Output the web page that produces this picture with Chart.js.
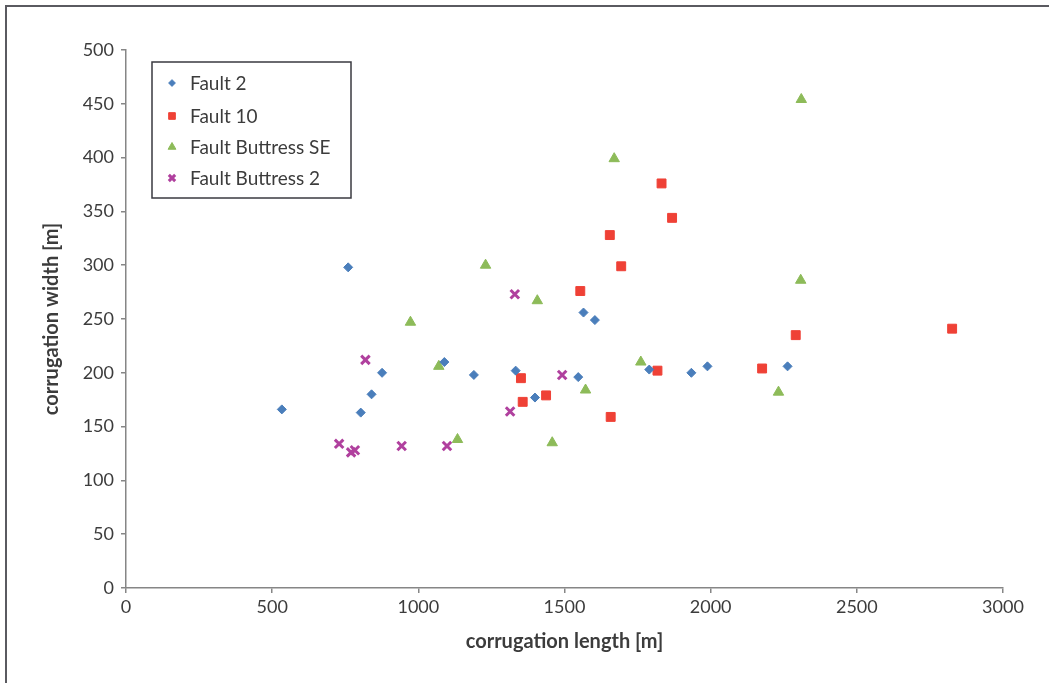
<!DOCTYPE html>
<html>
<head>
<meta charset="utf-8">
<title>Corrugation width vs length</title>
<script src="https://cdn.jsdelivr.net/npm/chart.js@4/dist/chart.umd.min.js"></script>
<style>
  html, body { margin: 0; padding: 0; background: #ffffff; }
  #wrap { width: 1049px; height: 683px; }
</style>
</head>
<body>
<div id="wrap"><canvas id="c" width="1049" height="683"></canvas></div>
<script>
// Measured corrugations: length [m] and width [m] per fault surface
const fault2Length = [533, 760, 803, 840, 876, 1089, 1190, 1333, 1399, 1547, 1565, 1604, 1790, 1934, 1989, 2263];
const fault2Width  = [166, 298, 163, 180, 200, 210, 198, 202, 177, 196, 256, 249, 203, 200, 206, 206];

const fault10Length = [1351, 1357, 1437, 1554, 1655, 1658, 1694, 1818, 1832, 1868, 2176, 2291, 2826];
const fault10Width  = [195, 173, 179, 276, 328, 159, 299, 202, 376, 344, 204, 235, 241];

const buttressSELength = [973, 1070, 1134, 1230, 1407, 1458, 1572, 1670, 1761, 2232, 2308, 2310];
const buttressSEWidth  = [247, 206, 138, 300, 267, 135, 184, 399, 210, 182, 286, 454];

const buttress2Length = [729, 770, 783, 819, 943, 1098, 1314, 1330, 1492];
const buttress2Width  = [134, 126, 128, 212, 132, 132, 164, 273, 198];

const seriesNames = ['Fault 2', 'Fault 10', 'Fault Buttress SE', 'Fault Buttress 2'];
const xTicks = [0, 500, 1000, 1500, 2000, 2500, 3000];
const yTicks = [0, 50, 100, 150, 200, 250, 300, 350, 400, 450, 500];

const pairs = (xs, ys) => xs.map((x, i) => ({ x: x, y: ys[i] }));

const FONT = 'Lato, "Open Sans", sans-serif';
const AXIS = '#868686';
const TEXT = '#3c3c3c';

// Outer frame around the figure
const framePlugin = {
  id: 'frame',
  beforeDraw(chart) {
    const ctx = chart.ctx;
    ctx.save();
    ctx.fillStyle = '#ffffff';
    ctx.fillRect(0, 0, chart.width, chart.height);
    ctx.strokeStyle = '#5a5a60';
    ctx.lineWidth = 2;
    ctx.strokeRect(6, 6, chart.width + 20, chart.height + 20);
    ctx.restore();
  }
};

// Boxed legend inside the plot area, upper left
const boxLegendPlugin = {
  id: 'boxLegend',
  afterDraw(chart) {
    const ctx = chart.ctx;
    const area = chart.chartArea;
    const left = area.left + 26, top = area.top + 12;
    const w = 199, h = 136;
    ctx.save();
    ctx.fillStyle = '#ffffff';
    ctx.fillRect(left, top, w, h);
    ctx.strokeStyle = '#3a3a40';
    ctx.lineWidth = 1.5;
    ctx.strokeRect(left, top, w, h);
    ctx.font = '19px ' + FONT;
    ctx.textBaseline = 'middle';
    const rowY = [21, 54, 85, 116];
    chart.data.datasets.forEach((ds, i) => {
      const y = top + rowY[i];
      ctx.fillStyle = ds.backgroundColor;
      ctx.strokeStyle = ds.borderColor;
      ctx.lineWidth = ds.borderWidth;
      Chart.helpers.drawPoint(ctx, {
        pointStyle: ds.pointStyle,
        radius: ds.pointRadius * 0.75,
        borderWidth: ds.borderWidth,
        rotation: 0
      }, left + 20, y);
      ctx.fillStyle = TEXT;
      ctx.fillText(ds.label, left + 38, y + 1);
    });
    ctx.restore();
  }
};

new Chart(document.getElementById('c'), {
  type: 'scatter',
  data: {
    datasets: [
      { label: seriesNames[0], data: pairs(fault2Length, fault2Width),
        pointStyle: 'rectRot', pointRadius: 4.5, borderWidth: 1,
        backgroundColor: '#4A7EBB', borderColor: '#4A7EBB' },
      { label: seriesNames[1], data: pairs(fault10Length, fault10Width),
        pointStyle: 'rect', pointRadius: 6.3, borderWidth: 1,
        backgroundColor: '#EF4136', borderColor: '#EF4136' },
      { label: seriesNames[2], data: pairs(buttressSELength, buttressSEWidth),
        pointStyle: 'triangle', pointRadius: 6, borderWidth: 1,
        backgroundColor: '#8DBB59', borderColor: '#8DBB59' },
      { label: seriesNames[3], data: pairs(buttress2Length, buttress2Width),
        pointStyle: 'crossRot', pointRadius: 6, borderWidth: 3,
        backgroundColor: '#B0409E', borderColor: '#B0409E' }
    ]
  },
  options: {
    responsive: false,
    animation: false,
    layout: { padding: { left: 0, top: 50, right: 46, bottom: 0 } },
    plugins: {
      legend: { display: false },
      tooltip: { enabled: false }
    },
    scales: {
      x: {
        type: 'linear', min: 0, max: 3000,
        afterBuildTicks: s => { s.ticks = xTicks.map(v => ({ value: v })); },
        afterFit: s => { s.height = 95; },
        grid: { drawOnChartArea: false, drawTicks: true, tickLength: 5, color: AXIS, lineWidth: 1.5 },
        border: { display: true, color: AXIS, width: 1.5 },
        ticks: { color: TEXT, font: { family: FONT, size: 18 }, padding: 3,
                 callback: v => String(v) },
        title: { display: true, text: 'corrugation length [m]', color: TEXT,
                 font: { family: FONT, size: 20, weight: 'bold' }, padding: { top: 0, bottom: 29 } }
      },
      y: {
        type: 'linear', min: 0, max: 500,
        afterBuildTicks: s => { s.ticks = yTicks.map(v => ({ value: v })); },
        afterFit: s => { s.width = 126; },
        grid: { drawOnChartArea: false, drawTicks: true, tickLength: 5, color: AXIS, lineWidth: 1.5 },
        border: { display: true, color: AXIS, width: 1.5 },
        ticks: { color: TEXT, font: { family: FONT, size: 18 }, padding: 7,
                 callback: v => String(v) },
        title: { display: true, text: 'corrugation width [m]', color: TEXT,
                 font: { family: FONT, size: 20, weight: 'bold' }, padding: { top: 40, bottom: 0 } }
      }
    }
  },
  plugins: [framePlugin, boxLegendPlugin]
});
</script>
</body>
</html>
